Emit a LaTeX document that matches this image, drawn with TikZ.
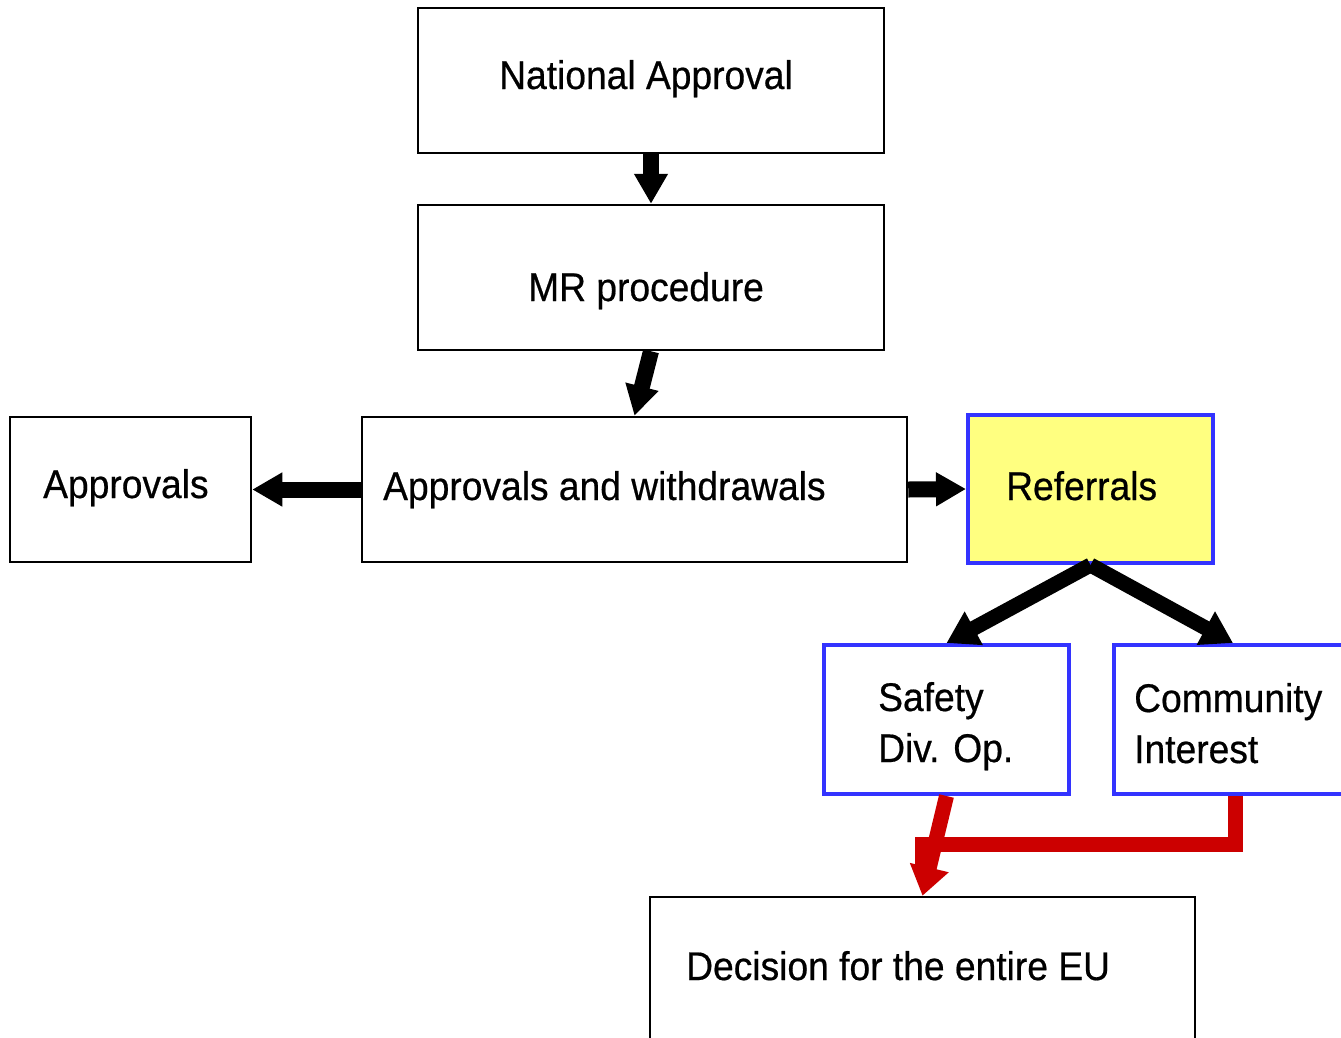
\documentclass[tikz,border=0pt]{standalone}
\usepackage{fontspec}
\setmainfont{Liberation Sans}[FakeStretch=0.93,FakeBold=0.5]
\usetikzlibrary{arrows.meta}
\definecolor{edgeblue}{RGB}{51,51,255}
\definecolor{refyellow}{RGB}{255,255,128}
\definecolor{flowred}{RGB}{204,0,0}
\begin{document}
\begin{tikzpicture}[x=1pt,y=-1pt,
  box/.style={draw=black,line width=2.5pt,inner sep=0pt},
  bluebox/.style={draw=edgeblue,line width=4pt,inner sep=0pt},
  lbl/.style={anchor=base west,inner sep=0pt,font=\fontsize{40}{50}\selectfont},
  blk/.style={line width=16pt,-{Triangle[width=32pt,length=30pt]}},
  fork/.style={line width=15pt,-{Triangle[width=36pt,length=31pt]}},
  redarrow/.style={line width=15pt,draw=flowred,line join=miter,-{Triangle[width=38pt,length=29pt]}},
  redline/.style={line width=15pt,draw=flowred,line join=miter}]
\useasboundingbox (0,0) rectangle (1341,1037);
\fill[white] (0,0) rectangle (1341,1037);
\clip (0,0) rectangle (1341,1037);

% boxes
\node[box,minimum width=466pt,minimum height=145pt] (na) at (651,80.5) {};
\node[box,minimum width=466pt,minimum height=145pt] (mr) at (651,277.5) {};
\node[box,minimum width=241pt,minimum height=145pt] (ap) at (130.5,489.5) {};
\node[box,minimum width=545pt,minimum height=145pt] (aw) at (634.5,489.5) {};
\node[bluebox,fill=refyellow,minimum width=245pt,minimum height=148pt] (rf) at (1090.5,489) {};
\node[bluebox,minimum width=245pt,minimum height=149pt] (sf) at (946.5,719.5) {};
\node[bluebox,minimum width=246pt,minimum height=149pt] (ci) at (1237,719.5) {};
\node[box,minimum width=545pt,minimum height=163pt] (de) at (922.5,978.5) {};

% labels
\node[lbl] (tna) at (499,89) {National Approval};
\node[lbl] (tmr) at (528,301) {MR procedure};
\node[lbl] (tap) at (43,498) {Approvals};
\node[lbl] (taw) at (383,500) {Approvals and withdrawals};
\node[lbl] (trf) at (1006,500) {Referrals};
\node[lbl] (tsf1) at (878,711) {Safety};
\node[lbl] (tsf2) at (878,762) {Div. Op.};
\node[lbl] (tci1) at (1134,712) {Community};
\node[lbl] (tci2) at (1134,763) {Interest};
\node[lbl] (tde) at (686,980) {Decision for the entire EU};

% black connectors
\draw[blk] (na.south) -- (mr.north);
\draw[blk] (mr.south) -- (aw.north);
\draw[blk] (aw.west) -- (ap.east);
\draw[blk] (aw.east) -- (rf.west);
\draw[fork] (rf.south) -- (sf.north);
\draw[fork] (rf.south) -- ([xshift=-4pt]ci.north);

% red connectors
\coordinate (jn) at (922.5,844.5);
\coordinate (jend) at (922.5,874);
\draw[redline] ([xshift=-1.5pt]ci.south) |- (jn) -- (jend);
\draw[redarrow] (sf.south) -- (de.north);
\end{tikzpicture}
\end{document}
